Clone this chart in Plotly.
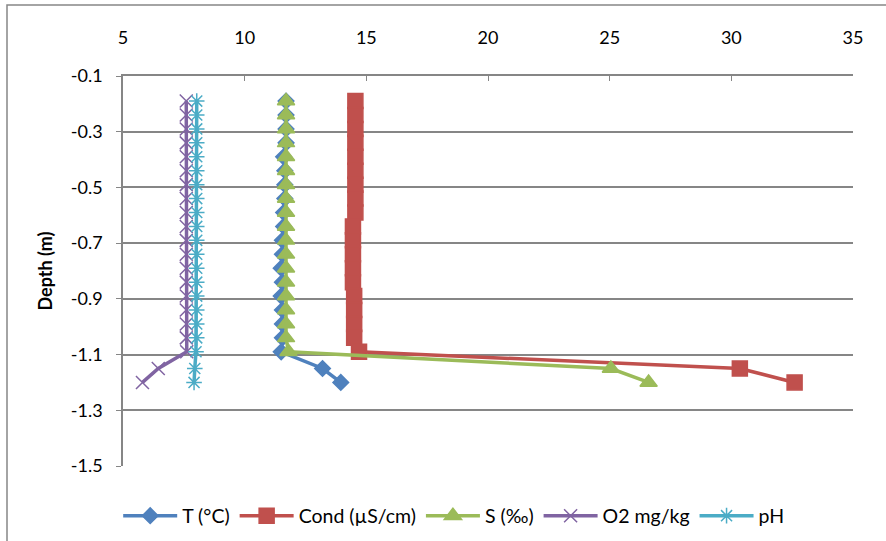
import plotly.graph_objects as go

depth = [-0.19, -0.24, -0.29, -0.34, -0.39, -0.44, -0.49, -0.54, -0.59, -0.64,
         -0.69, -0.74, -0.79, -0.84, -0.89, -0.94, -0.99, -1.04, -1.09, -1.15, -1.20]

temp = [11.7, 11.7, 11.7, 11.7, 11.6, 11.65, 11.65, 11.65, 11.6, 11.6,
        11.55, 11.55, 11.5, 11.55, 11.5, 11.55, 11.55, 11.55, 11.5, 13.2, 13.95]
cond = [14.55, 14.55, 14.55, 14.55, 14.55, 14.55, 14.55, 14.55, 14.55, 14.45,
        14.45, 14.45, 14.45, 14.45, 14.5, 14.5, 14.5, 14.5, 14.7, 30.35, 32.6]
sal = [11.7, 11.7, 11.7, 11.7, 11.7, 11.7, 11.7, 11.7, 11.7, 11.7,
       11.7, 11.7, 11.7, 11.7, 11.7, 11.7, 11.7, 11.7, 11.8, 25.05, 26.6]
o2 = [7.6, 7.6, 7.6, 7.6, 7.6, 7.6, 7.6, 7.6, 7.6, 7.6,
      7.6, 7.6, 7.6, 7.6, 7.6, 7.6, 7.6, 7.6, 7.62, 6.45, 5.8]
ph = [8.03, 8.03, 8.03, 8.03, 8.03, 8.03, 8.03, 8.03, 8.03, 8.03,
      8.03, 8.03, 8.03, 8.03, 8.03, 8.03, 8.03, 8.03, 8.0, 7.95, 7.92]

names = ["T (°C)", "Cond (µS/cm)", "S (‰)", "O2 mg/kg", "pH"]
series = [temp, cond, sal, o2, ph]
colors = ["#4F81BD", "#C0504D", "#9BBB59", "#8064A2", "#4BACC6"]
symbols = ["diamond", "square", "triangle-up", "x-thin-open", "asterisk-open"]
sizes = [12, 15, 15, 13, 13]

x_ticks = [5, 10, 15, 20, 25, 30, 35]
y_ticks = [-0.1, -0.3, -0.5, -0.7, -0.9, -1.1, -1.3, -1.5]

FONT = "Lato, 'Open Sans', sans-serif"

fig = go.Figure()
for name, vals, col, sym, sz in zip(names, series, colors, symbols, sizes):
    fig.add_trace(go.Scatter(
        x=vals, y=depth, name=name, mode="lines+markers",
        line=dict(color=col, width=3.5),
        marker=dict(symbol=sym, size=sz, color=col,
                    line=dict(color=col, width=1.5)),
    ))

fig.update_layout(
    width=886, height=541,
    margin=dict(l=123, r=33, t=76, b=75, autoexpand=False),
    paper_bgcolor="white", plot_bgcolor="white",
    font=dict(family=FONT, size=18, color="black"),
    showlegend=True,
    legend=dict(orientation="h", x=0.453, xanchor="center",
                yref="container", y=(541 - 516) / 541, yanchor="middle",
                font=dict(size=19.5), itemwidth=54, tracegroupgap=0),
    shapes=[dict(type="rect", xref="paper", yref="paper",
                 x0=(7 - 123) / 730, x1=(900 - 123) / 730,
                 y0=(466 - 560) / 390, y1=(466 - 5) / 390,
                 line=dict(color="#868686", width=1.5), layer="below")],
)

fig.update_xaxes(
    side="top", range=[5, 35], tickvals=x_ticks, ticktext=[str(v) for v in x_ticks],
    showgrid=False, zeroline=False, showline=True, linecolor="#868686", linewidth=1.5,
    ticks="inside", ticklen=5, tickcolor="#868686", ticklabelstandoff=23,
    tickfont=dict(size=18),
)
fig.update_yaxes(
    range=[-1.5, -0.1], tickvals=y_ticks, ticktext=[f"{v:.1f}" for v in y_ticks],
    showgrid=True, gridcolor="#868686", gridwidth=1.5, zeroline=False,
    showline=True, linecolor="#868686", linewidth=1.5,
    ticks="outside", ticklen=5, tickcolor="#868686", ticklabelstandoff=10,
    tickfont=dict(size=18),
    title=dict(text="<b>Depth (m)</b>", font=dict(size=18), standoff=14),
)

fig.write_html("out.html")
